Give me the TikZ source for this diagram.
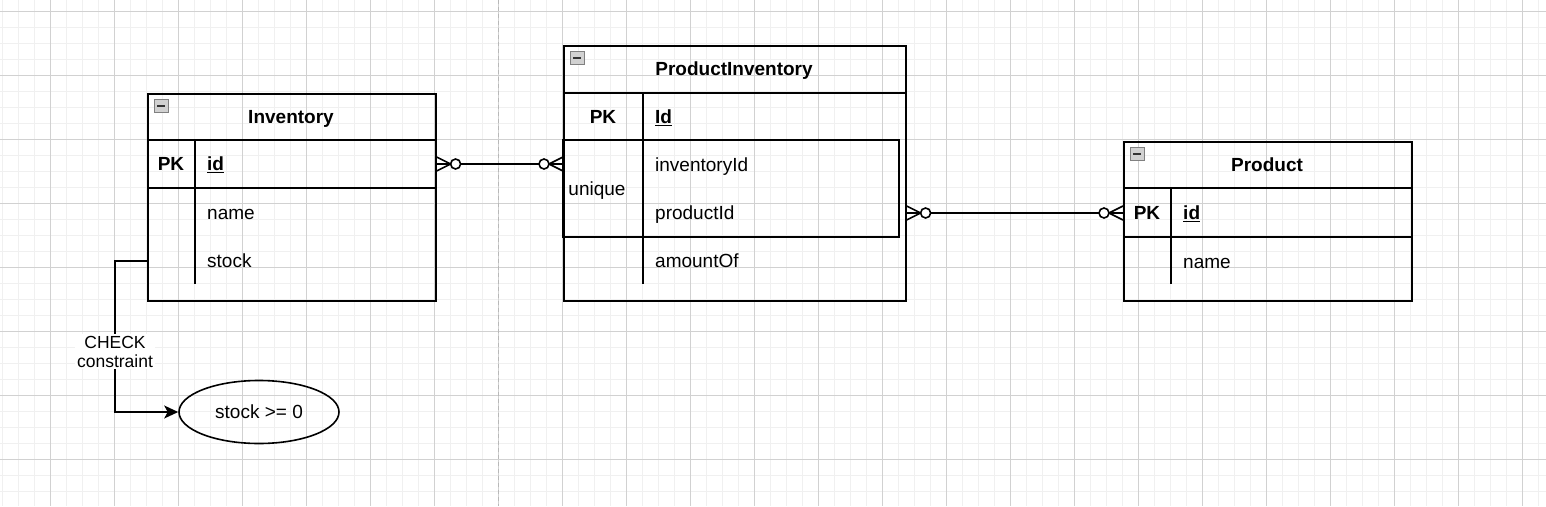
\documentclass[tikz,border=0pt]{standalone}
\usepackage{fontspec}
\setmainfont{Liberation Sans}
\usetikzlibrary{arrows.meta, shapes.geometric, positioning}
\tikzset{
x=1pt, y=-1pt, % one unit is one pixel of the sketch, y runs downwards
entity/.style={draw, line width=1.6pt, inner sep=0pt, anchor=north west}, % outline of a table
sep/.style={line width=1.6pt}, % lines inside a table
title/.style={inner sep=0pt, text height=13pt, text depth=0pt, font=\fontsize{19}{22}\selectfont\bfseries},
field/.style={inner sep=0pt, anchor=west, text height=13pt, text depth=0pt, font=\fontsize{19}{22}\selectfont},
key/.style={field, anchor=center, font=\fontsize{19}{22}\selectfont\bfseries},
minusicon/.style={draw=black!50, fill=black!18, line width=1pt, minimum width=14pt, minimum height=13pt, inner sep=0pt,
  path picture={\draw[black!80, line width=2.2pt] ([xshift=3pt]path picture bounding box.west) -- ([xshift=-3pt]path picture bounding box.east);}},
elabel/.style={fill=white, align=center, inner sep=2pt, font=\fontsize{17.5}{19}\selectfont},
zeromany/.pic={ % crow's foot with a ring
  \draw[line width=1.6pt] (0,-7) -- (14,0) -- (0,7);
  \draw[line width=1.6pt, fill=white] (19,0) circle[radius=5pt];
},
}

\begin{document}
\begin{tikzpicture}
  \useasboundingbox (0,0) rectangle (1546,506);
  % grid of the sheet
  \foreach \x in {2,18,...,1546} \draw[black!6, line width=1pt] (\x,0) -- (\x,506);
  \foreach \y in {-4.3,11.7,...,510} \draw[black!6, line width=1pt] (0,\y) -- (1546,\y);
  \foreach \x in {50,114,...,1546} \draw[black!18, line width=0.8pt] (\x,0) -- (\x,506);
  \foreach \y in {11.7,75.7,...,506} \draw[black!18, line width=0.8pt] (0,\y) -- (1546,\y);
  \draw[black!28, line width=1pt, dash pattern=on 4pt off 3pt] (498,0) -- (498,506);

  % Inventory
  \node[entity, minimum width=288pt, minimum height=207pt] (inv) at (147,93) {};
  \node[minusicon] at (161,106) {};
  \node[title] (invtitle) at (291,117) {Inventory};
  \draw[sep] (147,140) -- (435,140);
  \draw[sep] (147,188) -- (435,188);
  \draw[sep] (195,140) -- (195,284);
  \node[key] (invpk) at (171,164) {PK};
  \node[field] (invid) at (207,164) {\underline{\textbf{id}}};
  \node[field] (invname) at (207,213) {name};
  \node[field] (invstock) at (207,261) {stock};

  % ProductInventory
  \node[entity, minimum width=342pt, minimum height=255pt] (pi) at (563,45) {};
  \node[minusicon] at (577,58) {};
  \node[title] (pititle) at (734,69) {ProductInventory};
  \draw[sep] (563,93) -- (905,93);
  \draw[sep] (563,140) rectangle (899,237);
  \draw[sep] (643,93) -- (643,284);
  \node[key] (pipk) at (603,117) {PK};
  \node[field] (piid) at (655,117) {\underline{\textbf{Id}}};
  \node[field] (piinv) at (655,165) {inventoryId};
  \node[field] (piprod) at (655,213) {productId};
  \node[field, anchor=center] (piuniq) at (597,189) {unique};
  \node[field] (piamount) at (655,261) {amountOf};

  % Product
  \node[entity, minimum width=288pt, minimum height=159pt] (prod) at (1123,141) {};
  \node[minusicon] at (1137,154) {};
  \node[title] (prodtitle) at (1267,165) {Product};
  \draw[sep] (1123,188) -- (1411,188);
  \draw[sep] (1123,237) -- (1411,237);
  \draw[sep] (1171,188) -- (1171,284);
  \node[key] (prodpk) at (1147,213) {PK};
  \node[field] (prodid) at (1183,213) {\underline{\textbf{id}}};
  \node[field] (prodname) at (1183,262) {name};

  % CHECK constraint
  \node[draw, ellipse, line width=1.6pt, minimum width=160pt, minimum height=63pt, inner sep=0pt,
    font=\fontsize{19}{22}\selectfont] (chk) at (259,412) {stock >= 0};
  \draw[line width=1.6pt, -{Stealth[length=14pt, width=13pt, inset=3.5pt]}]
    (inv.west |- invstock) -- ++(-32,0) |- node[pos=0.3, elabel] {CHECK\\constraint} (chk.west);

  % relations
  \draw[line width=1.6pt] (inv.east |- invid) -- (pi.west |- invid);
  \pic at (inv.east |- invid) {zeromany};
  \pic[xscale=-1] at (pi.west |- invid) {zeromany};
  \draw[line width=1.6pt] (pi.east |- piprod) -- (prod.west |- prodid);
  \pic at (pi.east |- piprod) {zeromany};
  \pic[xscale=-1] at (prod.west |- prodid) {zeromany};
\end{tikzpicture}
\end{document}
